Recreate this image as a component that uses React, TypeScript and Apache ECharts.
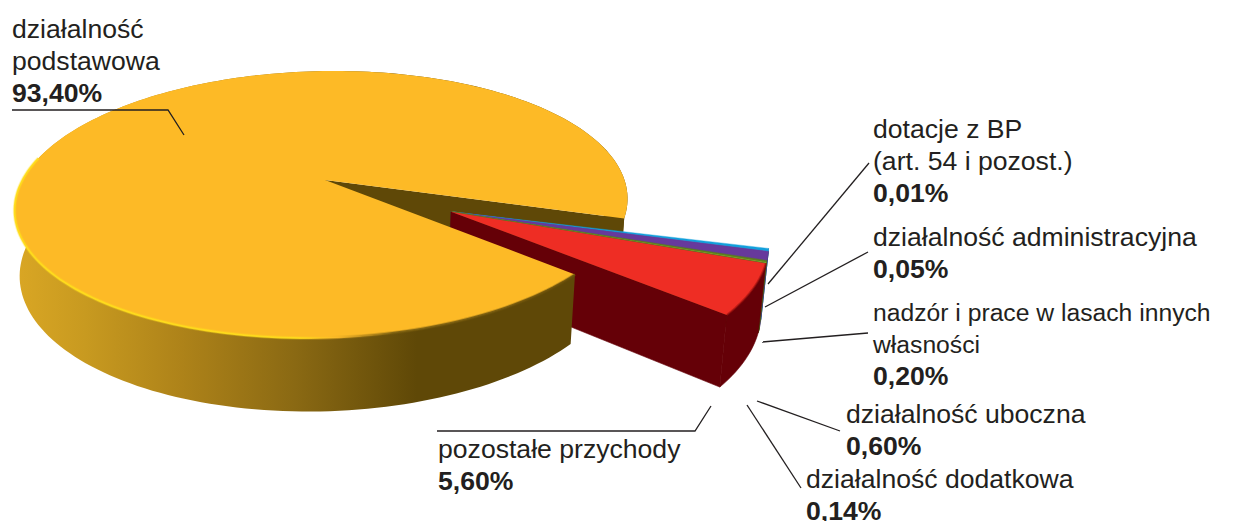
import React, { useEffect, useRef } from "react";
import * as echarts from "echarts";

// ---- data ----
const mainName = ["działalność", "podstawowa"];
const mainValue = [93.4];
const sliceNames = [
  "nadzór i prace w lasach innych własności",
  "działalność uboczna",
  "działalność dodatkowa",
  "działalność administracyjna",
  "dotacje z BP (art. 54 i pozost.)",
  "pozostałe przychody",
];
const sliceValues = [0.2, 0.6, 0.14, 0.05, 0.01, 5.6];
const sliceTop = ["#12a0dc", "#67399c", "#5d7f1e", "#a3c22e", "#55722a", "#ee2d24"];
const sliceWall = ["#2a6f9a", "#4a3a80", "#4f6b1c", "#5a7a20", "#3f5a20", "#650007"];

// ---- projection: a flat disc seen in perspective, top and bottom plane ----
const CX = 323.5;
const G = -0.1835;
const SKEW = -12.9;
const TOP = { a: 301, d: 96, e: 180 };
const BOT = { a: 296, d: 92, e: 244 };
const START = 16.4; // plane angle of the upper edge of the gap
const OFF_U = 0.415;
const OFF_V = 0.235;
const SLICE_START = 14.6;
const SWEEP_THIN = 1.6;
const SWEEP_WIDE = 1.01;
const SLICE_R = 0.985;
const MAIN_U = 0.005;
const BACK_SPLIT = 345;

type Plane = typeof TOP;
const project = (p: Plane, u: number, v: number): number[] => {
  const w = 1 + G * v;
  return [CX + (p.a * u + SKEW * v) / w, (p.d * v + p.e) / w];
};
const arc = (p: Plane, a0: number, a1: number, ou = 0, ov = 0, r = 1): number[][] => {
  const out: number[][] = [];
  const n = Math.max(2, Math.ceil(Math.abs(a1 - a0) / 1.5));
  for (let i = 0; i <= n; i++) {
    const t = ((a0 + ((a1 - a0) * i) / n) * Math.PI) / 180;
    out.push(project(p, ou + r * Math.cos(t), ov + r * Math.sin(t)));
  }
  return out;
};
const deg = (v: number) => (v / 100) * 360;
const sweep = (v: number) => deg(v) * (v < 1 ? SWEEP_THIN : SWEEP_WIDE);
const mainStart = () => START + deg(sliceValues.reduce((s, v) => s + v, 0));
const mainEnd = () => mainStart() + deg(mainValue[0]);

const poly = (points: number[][], fill: any, extra: any = {}) => ({
  type: "polygon",
  silent: true,
  shape: { points },
  style: { fill, ...extra },
});
const pline = (points: number[][], stroke: any, lineWidth: number, opacity = 1) => ({
  type: "polyline",
  silent: true,
  shape: { points },
  style: { fill: "none", stroke, lineWidth, opacity },
});
const grad = (x0: number, x1: number, stops: [number, string][]) =>
  new echarts.graphic.LinearGradient(
    x0, 0, x1, 0,
    stops.map(([offset, color]) => ({ offset, color })),
    true
  );

const BROWN = "#5f4807";
const YELLOW = "#fdba26";

const renderMainBack = () => {
  const end = mainEnd();
  const apexT = project(TOP, MAIN_U, 0);
  const apexB = project(BOT, MAIN_U, 0);
  const topEdge = arc(TOP, end, end)[0];
  const botEdge = arc(BOT, end, end)[0];
  return {
    type: "group",
    children: [
      poly([...arc(TOP, BACK_SPLIT, end), ...arc(BOT, end, BACK_SPLIT)], BROWN),
      poly([apexT, topEdge, botEdge, apexB], BROWN),
    ],
  };
};

const renderSlice = (params: any, api: any) => {
  const i = params.dataIndex;
  const before = sliceValues.slice(0, i).reduce((s, v) => s + sweep(v), 0);
  const a0 = SLICE_START + before;
  const a1 = a0 + sweep(api.value(0));
  const apexT = project(TOP, OFF_U, OFF_V);
  const apexB = project(BOT, OFF_U, OFF_V);
  const topArc = arc(TOP, a0, a1, OFF_U, OFF_V, SLICE_R);
  const botArc = arc(BOT, a0, a1, OFF_U, OFF_V, SLICE_R);
  const isThin = api.value(0) < 1;
  const seam = { stroke: sliceWall[i], lineWidth: 0.6 };
  const children: any[] = [
    poly([...topArc, ...botArc.slice().reverse()], sliceWall[i], seam),
    poly([apexT, topArc[topArc.length - 1], botArc[botArc.length - 1], apexB], sliceWall[i], seam),
    poly([apexT, ...topArc], sliceTop[i], isThin ? { stroke: sliceTop[i], lineWidth: 0.4 } : {}),
  ];
  if (!isThin) children.push(pline(topArc, "#a3100f", 2, 0.6));
  return { type: "group", children };
};

const renderMainFront = () => {
  const end = mainEnd();
  const start = mainStart();
  const apex = project(TOP, MAIN_U, 0);
  const wall = grad(18, 572, [
    [0, "#d9a624"],
    [0.12, "#c89a20"],
    [0.3, "#ad8219"],
    [0.5, "#8a6913"],
    [0.72, BROWN],
    [1, BROWN],
  ]);
  const rim = grad(14, 572, [
    [0, "#ffdd1a"],
    [0.5, "#ffdd1a"],
    [0.58, YELLOW],
    [0.68, "#7c5f0e"],
    [1, "#6a500a"],
  ]);
  const soft = grad(14, 572, [
    [0, "#ffdd1a"],
    [0.5, "#ffdd1a"],
    [0.56, YELLOW],
    [0.66, "#7c5f0e"],
    [1, "#6a500a"],
  ]);
  return {
    type: "group",
    children: [
      poly([...arc(TOP, start, BACK_SPLIT), ...arc(BOT, BACK_SPLIT, start)], wall),
      poly([apex, ...arc(TOP, start, end)], YELLOW),
      pline(arc(TOP, start, 190), soft, 3.5, 0.3),
      pline(arc(TOP, start, 190), rim, 1.8, 0.9),
    ],
  };
};

// ---- labels ----
const pct = (v: number) => v.toFixed(2).replace(".", ",") + "%";
type Lab = { x: number; y: number; lines: string[]; value: number; size?: number };
const labels: Lab[] = [
  { x: 12, y: 29, lines: mainName, value: mainValue[0] },
  { x: 873, y: 129, lines: ["dotacje z BP", "(art. 54 i pozost.)"], value: sliceValues[4] },
  { x: 873, y: 237, lines: ["działalność administracyjna"], value: sliceValues[3] },
  { x: 873, y: 312, lines: ["nadzór i prace w lasach innych", "własności"], value: sliceValues[0], size: 24.7 },
  { x: 846, y: 414, lines: ["działalność uboczna"], value: sliceValues[1] },
  { x: 806, y: 479, lines: ["działalność dodatkowa"], value: sliceValues[2] },
  { x: 438, y: 449, lines: ["pozostałe przychody"], value: sliceValues[5] },
];
const leaders: number[][][] = [
  [[12, 110], [168, 110], [184, 135]],
  [[869, 163], [768, 284]],
  [[868, 252], [765, 307]],
  [[868, 333], [762, 342]],
  [[840, 431], [757, 401]],
  [[801, 488], [747, 405]],
  [[437, 431], [695, 431], [711, 406]],
];
const INK = "#231f20";
const FONT = '"Liberation Sans", Arial, sans-serif';
const LINE = 32;
const SIZE = 26.6;

const buildGraphics = () => {
  const els: any[] = [];
  leaders.forEach((points) =>
    els.push({
      type: "polyline",
      z: 100,
      silent: true,
      shape: { points },
      style: { fill: "none", stroke: INK, lineWidth: 1.3 },
    })
  );
  labels.forEach((l) => {
    l.lines.forEach((t, i) =>
      els.push({
        type: "text",
        z: 100,
        silent: true,
        x: l.x,
        y: l.y + i * LINE,
        style: {
          text: t,
          fill: INK,
          font: `${l.size ?? SIZE}px ${FONT}`,
          verticalAlign: "middle",
        },
      })
    );
    els.push({
      type: "text",
      z: 100,
      silent: true,
      x: l.x,
      y: l.y + l.lines.length * LINE,
      style: {
        text: pct(l.value),
        fill: INK,
        font: `bold ${SIZE}px ${FONT}`,
        verticalAlign: "middle",
      },
    });
  });
  return els;
};

export default function App() {
  const ref = useRef<HTMLDivElement>(null);
  useEffect(() => {
    document.body.style.margin = "0";
    const chart = echarts.init(ref.current!, undefined, { renderer: "svg" });
    chart.setOption({
      animation: false,
      backgroundColor: "#ffffff",
      graphic: { elements: buildGraphics() },
      series: [
        {
          type: "custom",
          name: "back",
          coordinateSystem: "none",
          silent: true,
          z: 1,
          data: mainValue,
          renderItem: renderMainBack,
        },
        {
          type: "custom",
          name: "slices",
          coordinateSystem: "none",
          silent: true,
          z: 2,
          data: sliceValues,
          renderItem: renderSlice,
        },
        {
          type: "custom",
          name: "front",
          coordinateSystem: "none",
          silent: true,
          z: 3,
          data: mainValue,
          renderItem: renderMainFront,
        },
      ],
    });
    return () => chart.dispose();
  }, []);
  return <div ref={ref} style={{ width: 1240, height: 521 }} />;
}
